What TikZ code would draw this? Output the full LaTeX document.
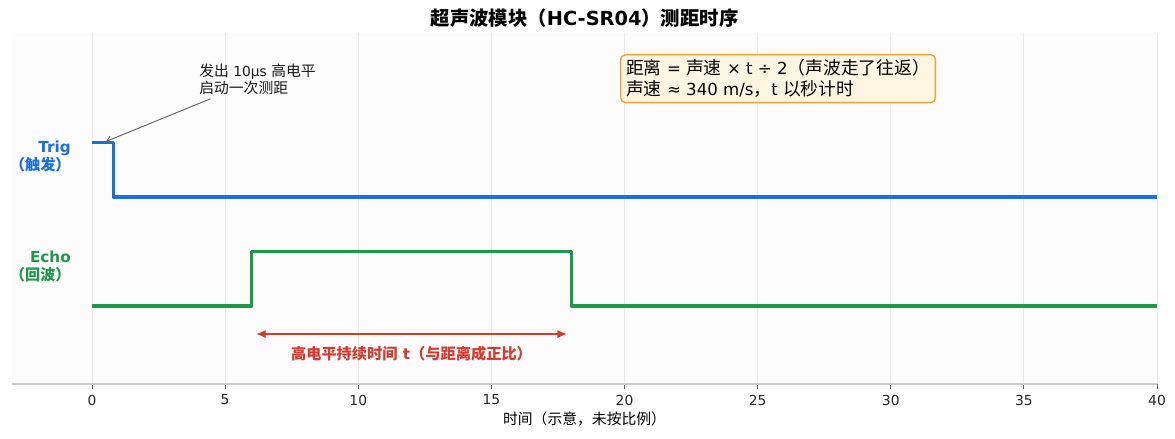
\documentclass[tikz,border=0pt]{standalone}
\usepackage{fontspec}
\setmainfont{DejaVu Sans}
\newfontfamily\cjk{Noto Sans CJK SC}[Scale=1.07]
\newfontfamily\cjkb{Noto Sans CJK SC}
\usetikzlibrary{positioning,arrows.meta}
\newcommand{\zh}[1]{{\cjk #1}}
\newcommand{\zhb}[1]{{\cjkb #1}}
\definecolor{trigblue}{RGB}{26,111,223}
\definecolor{echogreen}{RGB}{30,152,74}
\definecolor{durred}{RGB}{214,57,45}
\definecolor{boxfill}{RGB}{253,245,226}
\definecolor{boxline}{RGB}{232,165,58}
\definecolor{gridgray}{RGB}{234,234,234}
\definecolor{spinegray}{RGB}{204,204,204}
\definecolor{plotbg}{RGB}{252,252,252}

\begin{document}
\begin{tikzpicture}[x=0.676275cm,y=1.3843cm,
    trig/.style={draw=trigblue,line width=2.5pt,line join=round},
    echo/.style={draw=echogreen,line width=2.5pt,line join=round},
    gridline/.style={draw=gridgray,line width=0.6pt},
    spine/.style={draw=spinegray,line width=1pt},
    tickmark/.style={draw=black!60,line width=0.7pt},
    ticklbl/.style={font=\fontsize{10}{12}\selectfont,inner sep=0pt,text=black!85},
    siglbl/.style={font=\bfseries\fontsize{11}{12.3}\selectfont,align=right,anchor=east,inner sep=0pt},
    note/.style={font=\fontsize{10}{12.2}\selectfont,align=left,anchor=north west,inner sep=0pt,text=black!90},
    notearrow/.style={draw=black!60,line width=0.7pt,-{Straight Barb[length=3.5pt,width=5pt]},shorten <=7pt},
    infobox/.style={draw=boxline,fill=boxfill,line width=1pt,rounded corners=3.5pt,align=left,
      anchor=north west,inner xsep=4pt,inner ysep=3.6pt,font=\fontsize{12}{15.1}\selectfont},
    durarrow/.style={draw=durred,line width=1.6pt,{Latex[length=7pt,width=6pt]}-{Latex[length=7pt,width=6pt]},shorten <=3pt,shorten >=3pt},
    durlbl/.style={font=\bfseries\fontsize{11}{13}\selectfont,text=durred,inner sep=0pt}]
  \useasboundingbox (-3.4554,-2.4220) rectangle (40.676,5.6147);
  \fill[plotbg] (-3.005,-1.431) rectangle (40,5.009);

  % grid, ticks and axis
  \foreach \t in {0,5,...,40} {
    \draw[gridline] (\t,-1.431) -- (\t,5.009);
    \draw[tickmark] (\t,-1.431) -- ++(0,-3.5pt);
    \node[ticklbl] (tick\t) at (\t,-1.725) {\t};
  }
  \draw[spine] (-3.005,-1.431) -- (40,-1.431);
  \node[font=\fontsize{10}{12}\selectfont,inner sep=0pt] (xlabel) at (18.5,-2.073) {\zh{时间（示意，未按比例）}};

  \node[font=\bfseries\fontsize{14}{17}\selectfont,inner sep=0pt] (title) at (18.5,5.275)
    {\zhb{超声波模块（}HC-SR04\zhb{）测距时序}};

  % signals
  \node[siglbl,text=trigblue] (triglbl) at (-0.789,2.743) {Trig\\\zhb{（触发）}};
  \node[siglbl,text=echogreen] (echolbl) at (-0.789,0.725) {Echo\\\zhb{（回波）}};
  \draw[trig] (0,3) -- (0.8,3) -- (0.8,2) -- (40,2);
  \draw[echo] (0,0) -- (6,0) -- (6,1) -- (18,1) -- (18,0) -- (40,0);

  % trigger note
  \node[note] (trignote) at (4.019,4.44) {\zh{发出} 10μs \zh{高电平}\\\zh{启动一次测距}};
  \coordinate (trigpulse) at (0.53,3.02);
  \draw[notearrow] (trignote) -- (trigpulse);

  % echo duration
  \coordinate (echorise) at (6,-0.514);
  \coordinate (echofall) at (18,-0.514);
  \draw[durarrow] (echorise) -- (echofall);
  \node[durlbl] (durtext) at (12,-0.881) {\zhb{高电平持续时间} t\zhb{（与距离成正比）}};

  % formula box
  \node[infobox] (formula) at (19.83,4.624)
    {\zh{距离} = \zh{声速} × t ÷ 2\zh{（声波走了往返）}\\\zh{声速} ≈ 340 m/s\zh{，}t \zh{以秒计时}};
\end{tikzpicture}
\end{document}
